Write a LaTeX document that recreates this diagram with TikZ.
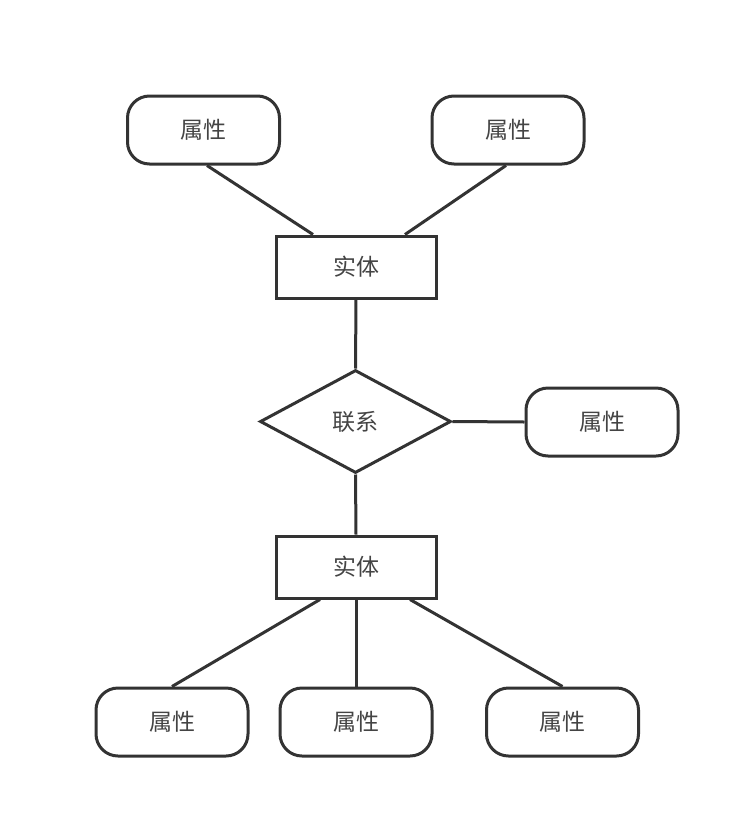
\documentclass[tikz,border=0pt]{standalone}
\usepackage{fontspec}
\newfontfamily\cjk{Noto Sans CJK SC}
\usetikzlibrary{shapes.geometric}
\definecolor{ln}{HTML}{333333}
\definecolor{tx}{HTML}{444444}
\tikzset{
  base/.style={draw=ln, line width=3pt, fill=white, font=\cjk\fontsize{23}{26}\selectfont, text=tx, inner sep=0pt},
  attr/.style={base, rounded corners=22pt, minimum width=152pt, minimum height=68pt},
  ent/.style={base, minimum width=160pt, minimum height=62pt},
  rel/.style={base, diamond, minimum width=191pt, minimum height=103pt, aspect=1.85},
  conn/.style={draw=ln, line width=3pt}
}
\begin{document}
\begin{tikzpicture}[x=1pt,y=-1pt]
\useasboundingbox (0,0) rectangle (742,820);
\node[attr] (a1) at (203.5,130) {属性};
\node[attr] (a2) at (508,130) {属性};
\node[ent] (e1) at (356,267) {实体};
\node[rel] (r) at (355.5,421.5) {联系};
\node[attr] (a3) at (602,422) {属性};
\node[ent] (e2) at (356,567) {实体};
\node[attr] (b1) at (172,722) {属性};
\node[attr] (b2) at (356,722) {属性};
\node[attr] (b3) at (562.5,722) {属性};
\begin{scope}[on background layer/.try]
\end{scope}
\draw[conn] ([xshift=3.5pt]a1.south) -- ([xshift=-43pt]e1.north);
\draw[conn] ([xshift=-2pt]a2.south) -- ([xshift=49pt]e1.north);
\draw[conn] (e1.south) -- (r.north);
\draw[conn] (r.east) -- (a3.west);
\draw[conn] (r.south) -- (e2.north);
\draw[conn] ([xshift=-36pt]e2.south) -- (b1.north);
\draw[conn] (e2.south) -- (b2.north);
\draw[conn] ([xshift=54pt]e2.south) -- (b3.north);
\end{tikzpicture}
\end{document}
